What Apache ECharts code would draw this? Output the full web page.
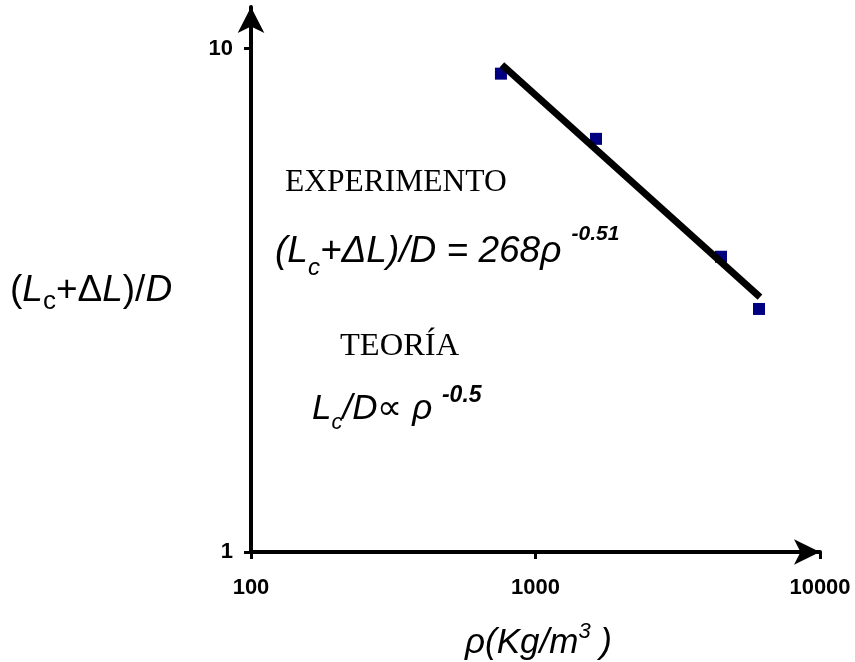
<!DOCTYPE html>
<html><head><meta charset="utf-8">
<script src="https://cdn.jsdelivr.net/npm/echarts@6/dist/echarts.min.js"></script>
<style>html,body{margin:0;padding:0;background:#fff}#c{width:855px;height:662px}</style>
</head><body><div id="c"></div>
<script>
// measured data (density in kg/m^3, dimensionless length)
const densities = [756, 1632, 4487, 6104];
const ratios = [8.92, 6.62, 3.86, 3.04];
// fitted power-law line, endpoints
const fitDensities = [762, 6152];
const fitRatios = [9.29, 3.21];
// axes
const xMin = 100, xMax = 10000;
const yMin = 1, yMax = 12.1;
const xTickValues = [100, 1000, 10000];
const yTickValues = [1, 10];

const AR = 'Liberation Sans, Arial, sans-serif';
const TR = 'Liberation Serif, Times New Roman, serif';

const chart = echarts.init(document.getElementById('c'), null, {renderer: 'canvas'});
const tickStyle = {show: true, inside: false, length: 7, lineStyle: {color: '#000', width: 3}};
const labelStyle = {color: '#000', fontFamily: AR, fontWeight: 'bold', fontSize: 22};
chart.setOption({
  animation: false,
  backgroundColor: '#fff',
  grid: {left: 251, right: 35, top: 7, bottom: 110, containLabel: false},
  xAxis: {
    type: 'log', logBase: 10, min: xMin, max: xMax,
    splitLine: {show: false},
    axisLine: {show: true, lineStyle: {color: '#000', width: 4}, symbol: ['none', 'arrow'], symbolSize: [19, 26]},
    axisTick: Object.assign({}, tickStyle, {customValues: xTickValues}),
    axisLabel: Object.assign({}, labelStyle, {margin: 25, customValues: xTickValues, formatter: v => String(Math.round(v))})
  },
  yAxis: {
    type: 'log', logBase: 10, min: yMin, max: yMax,
    splitLine: {show: false},
    axisLine: {show: true, lineStyle: {color: '#000', width: 4}, symbol: ['none', 'arrow'], symbolSize: [20, 26]},
    axisTick: Object.assign({}, tickStyle, {customValues: yTickValues}),
    axisLabel: Object.assign({}, labelStyle, {margin: 18, customValues: yTickValues, formatter: v => String(Math.round(v))})
  },
  series: [
    {
      type: 'scatter', symbol: 'rect', symbolSize: 12, z: 2,
      itemStyle: {color: '#000080', opacity: 1},
      data: densities.map((d, i) => [d, ratios[i]])
    },
    {
      type: 'line', showSymbol: false, symbol: 'none', z: 3,
      lineStyle: {color: '#000', width: 7},
      data: fitDensities.map((d, i) => [d, fitRatios[i]])
    }
  ],
  graphic: [
    { type: 'text', x: 10, y: 291, style: {
        text: '({i|L}{s|c}+Δ{i|L})/{i|D}',
        fontFamily: AR, fontSize: 37, lineHeight: 48, fill: '#000', verticalAlign: 'middle', align: 'left',
        rich: {
          i: {fontFamily: AR, fontSize: 37, fontStyle: 'italic', lineHeight: 48},
          s: {fontFamily: AR, fontSize: 26, lineHeight: 36, verticalAlign: 'bottom'}
        }
    }},
    { type: 'text', x: 285, y: 183, style: {
        text: 'EXPERIMENTO', fontFamily: TR, fontSize: 31.5, fill: '#000', verticalAlign: 'middle', align: 'left'
    }},
    { type: 'text', x: 275, y: 252, style: {
        text: '{i|(L}{s|c}{i|+ΔL)/D = 268ρ }{p|-0.51}',
        fontFamily: AR, fontSize: 37, fill: '#000', verticalAlign: 'middle', align: 'left',
        rich: {
          i: {fontFamily: AR, fontSize: 37, fontStyle: 'italic', lineHeight: 56},
          s: {fontFamily: AR, fontSize: 24, fontStyle: 'italic', lineHeight: 42, verticalAlign: 'bottom'},
          p: {fontFamily: AR, fontSize: 21, fontStyle: 'italic', fontWeight: 'bold', lineHeight: 22, verticalAlign: 'top'}
        }
    }},
    { type: 'text', x: 340, y: 346, style: {
        text: 'TEORÍA', fontFamily: TR, fontSize: 32.5, fill: '#000', verticalAlign: 'middle', align: 'left'
    }},
    { type: 'text', x: 312, y: 409, style: {
        text: '{i|L}{s|c}{i|/D}{n|∝ }{i|ρ }{p|-0.5}',
        fontFamily: AR, fontSize: 35, fill: '#000', verticalAlign: 'middle', align: 'left',
        rich: {
          i: {fontFamily: AR, fontSize: 35, fontStyle: 'italic', lineHeight: 50},
          n: {fontFamily: AR, fontSize: 35, lineHeight: 50},
          s: {fontFamily: AR, fontSize: 22, fontStyle: 'italic', lineHeight: 34, verticalAlign: 'bottom'},
          p: {fontFamily: AR, fontSize: 23, fontStyle: 'italic', fontWeight: 'bold', lineHeight: 18, verticalAlign: 'top'}
        }
    }},
    { type: 'text', x: 465, y: 643, style: {
        text: '{i|ρ(Kg/m}{p|3}{i| )}',
        fontFamily: AR, fontSize: 35, fill: '#000', verticalAlign: 'middle', align: 'left',
        rich: {
          i: {fontFamily: AR, fontSize: 35, fontStyle: 'italic', lineHeight: 44},
          p: {fontFamily: AR, fontSize: 22, fontStyle: 'italic', lineHeight: 17, verticalAlign: 'top'}
        }
    }}
  ]
});
</script>
</body></html>
